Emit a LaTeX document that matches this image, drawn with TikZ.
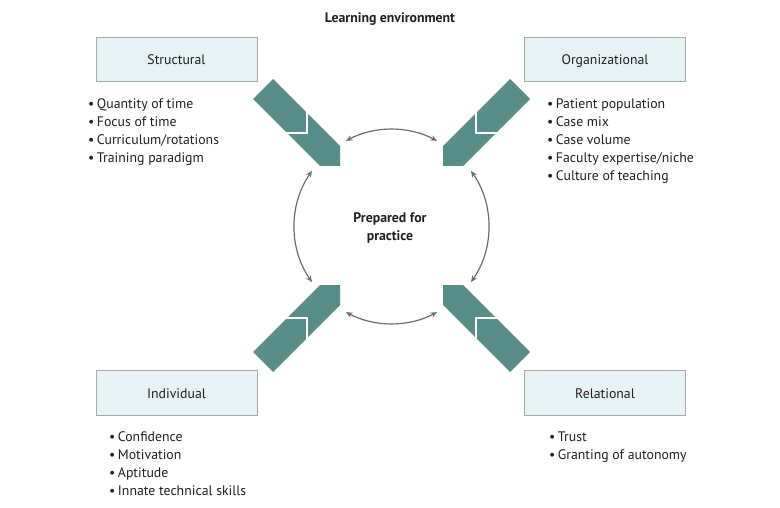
\documentclass[tikz,border=0pt]{standalone}
\usepackage{fontspec}
\setmainfont{PT Sans}
\usetikzlibrary{arrows.meta}
\definecolor{tealarrow}{HTML}{568D89}
\definecolor{boxfill}{HTML}{E7F2F4}
\definecolor{boxline}{HTML}{A3ABAD}
\definecolor{arcgray}{HTML}{6E6E6E}
\definecolor{txt}{HTML}{231F20}
\newcommand{\quadarrow}{%
  \fill[tealarrow] (273,79) -- (340,146) -- (340,166) -- (320,166) -- (253,99) -- cycle;
  \draw[white, line width=2.4pt, line join=miter] (307,108) -- (307,133) -- (282,133);
}
\begin{document}
\begin{tikzpicture}[x=1pt,y=-1pt,
  catbox/.style={draw=boxline, fill=boxfill, line width=0.8pt, minimum width=161pt,
    minimum height=44.5pt, inner sep=0pt, text height=14pt, text depth=3pt,
    font=\fontsize{13.8}{15}\selectfont, text=txt},
  li/.style={anchor=base west, inner sep=0pt, font=\fontsize{13.8}{15}\selectfont, text=txt},
  headtxt/.style={font=\bfseries\fontsize{13.8}{17.5}\selectfont, text=txt, align=center, inner sep=0pt},
  cyc/.style={draw=arcgray, line width=1.2pt, {Stealth[length=6.5pt,width=5.5pt]}-{Stealth[length=6.5pt,width=5.5pt]}}]
\useasboundingbox (0,0) rectangle (780,508);
\fill[white] (0,0) rectangle (780,508);

% arrows
\quadarrow
\begin{scope}[shift={(783,0)}, xscale=-1]\quadarrow\end{scope}
\begin{scope}[shift={(0,451)}, yscale=-1]\quadarrow\end{scope}
\begin{scope}[shift={(783,451)}, xscale=-1, yscale=-1]\quadarrow\end{scope}

% boxes
\node[catbox] (structural) at (176.5,59.5) {Structural};
\node[catbox] (organizational) at (605,59.5) {Organizational};
\node[catbox] (individual) at (176.5,393) {Individual};
\node[catbox] (relational) at (605,393) {Relational};

% title and centre
\node[headtxt, anchor=base] (title) at (390,23) {Learning environment};
\node[headtxt, anchor=base] (centre1) at (390,223) {Prepared for};
\node[headtxt, anchor=base] (centre2) at (390,240.5) {practice};

% cycle arcs
\coordinate (ctr) at (391.5,226.5);
\draw[cyc] ([shift={(-62:97)}]ctr) arc[start angle=-62, end angle=-118, radius=97];
\draw[cyc] ([shift={(-145:97)}]ctr) arc[start angle=-145, end angle=-215, radius=97];
\draw[cyc] ([shift={(-242:97)}]ctr) arc[start angle=-242, end angle=-298, radius=97];
\draw[cyc] ([shift={(35:97)}]ctr) arc[start angle=35, end angle=-35, radius=97];

% lists
\foreach \t [count=\i from 0] in {Quantity of time, Focus of time, Curriculum/rotations, Training paradigm}
  \node[li] (s\i) at (88,109+18*\i) {•\hspace{2.5pt}\t};
\foreach \t [count=\i from 0] in {Patient population, Case mix, Case volume, Faculty expertise/niche, Culture of teaching}
  \node[li] (o\i) at (547,108.5+18*\i) {•\hspace{2.5pt}\t};
\foreach \t [count=\i from 0] in {Confidence, Motivation, Aptitude, Innate technical skills}
  \node[li] (d\i) at (109,441+18*\i) {•\hspace{2.5pt}\t};
\foreach \t [count=\i from 0] in {Trust, Granting of autonomy}
  \node[li] (r\i) at (549,441+18*\i) {•\hspace{2.5pt}\t};
\end{tikzpicture}
\end{document}
